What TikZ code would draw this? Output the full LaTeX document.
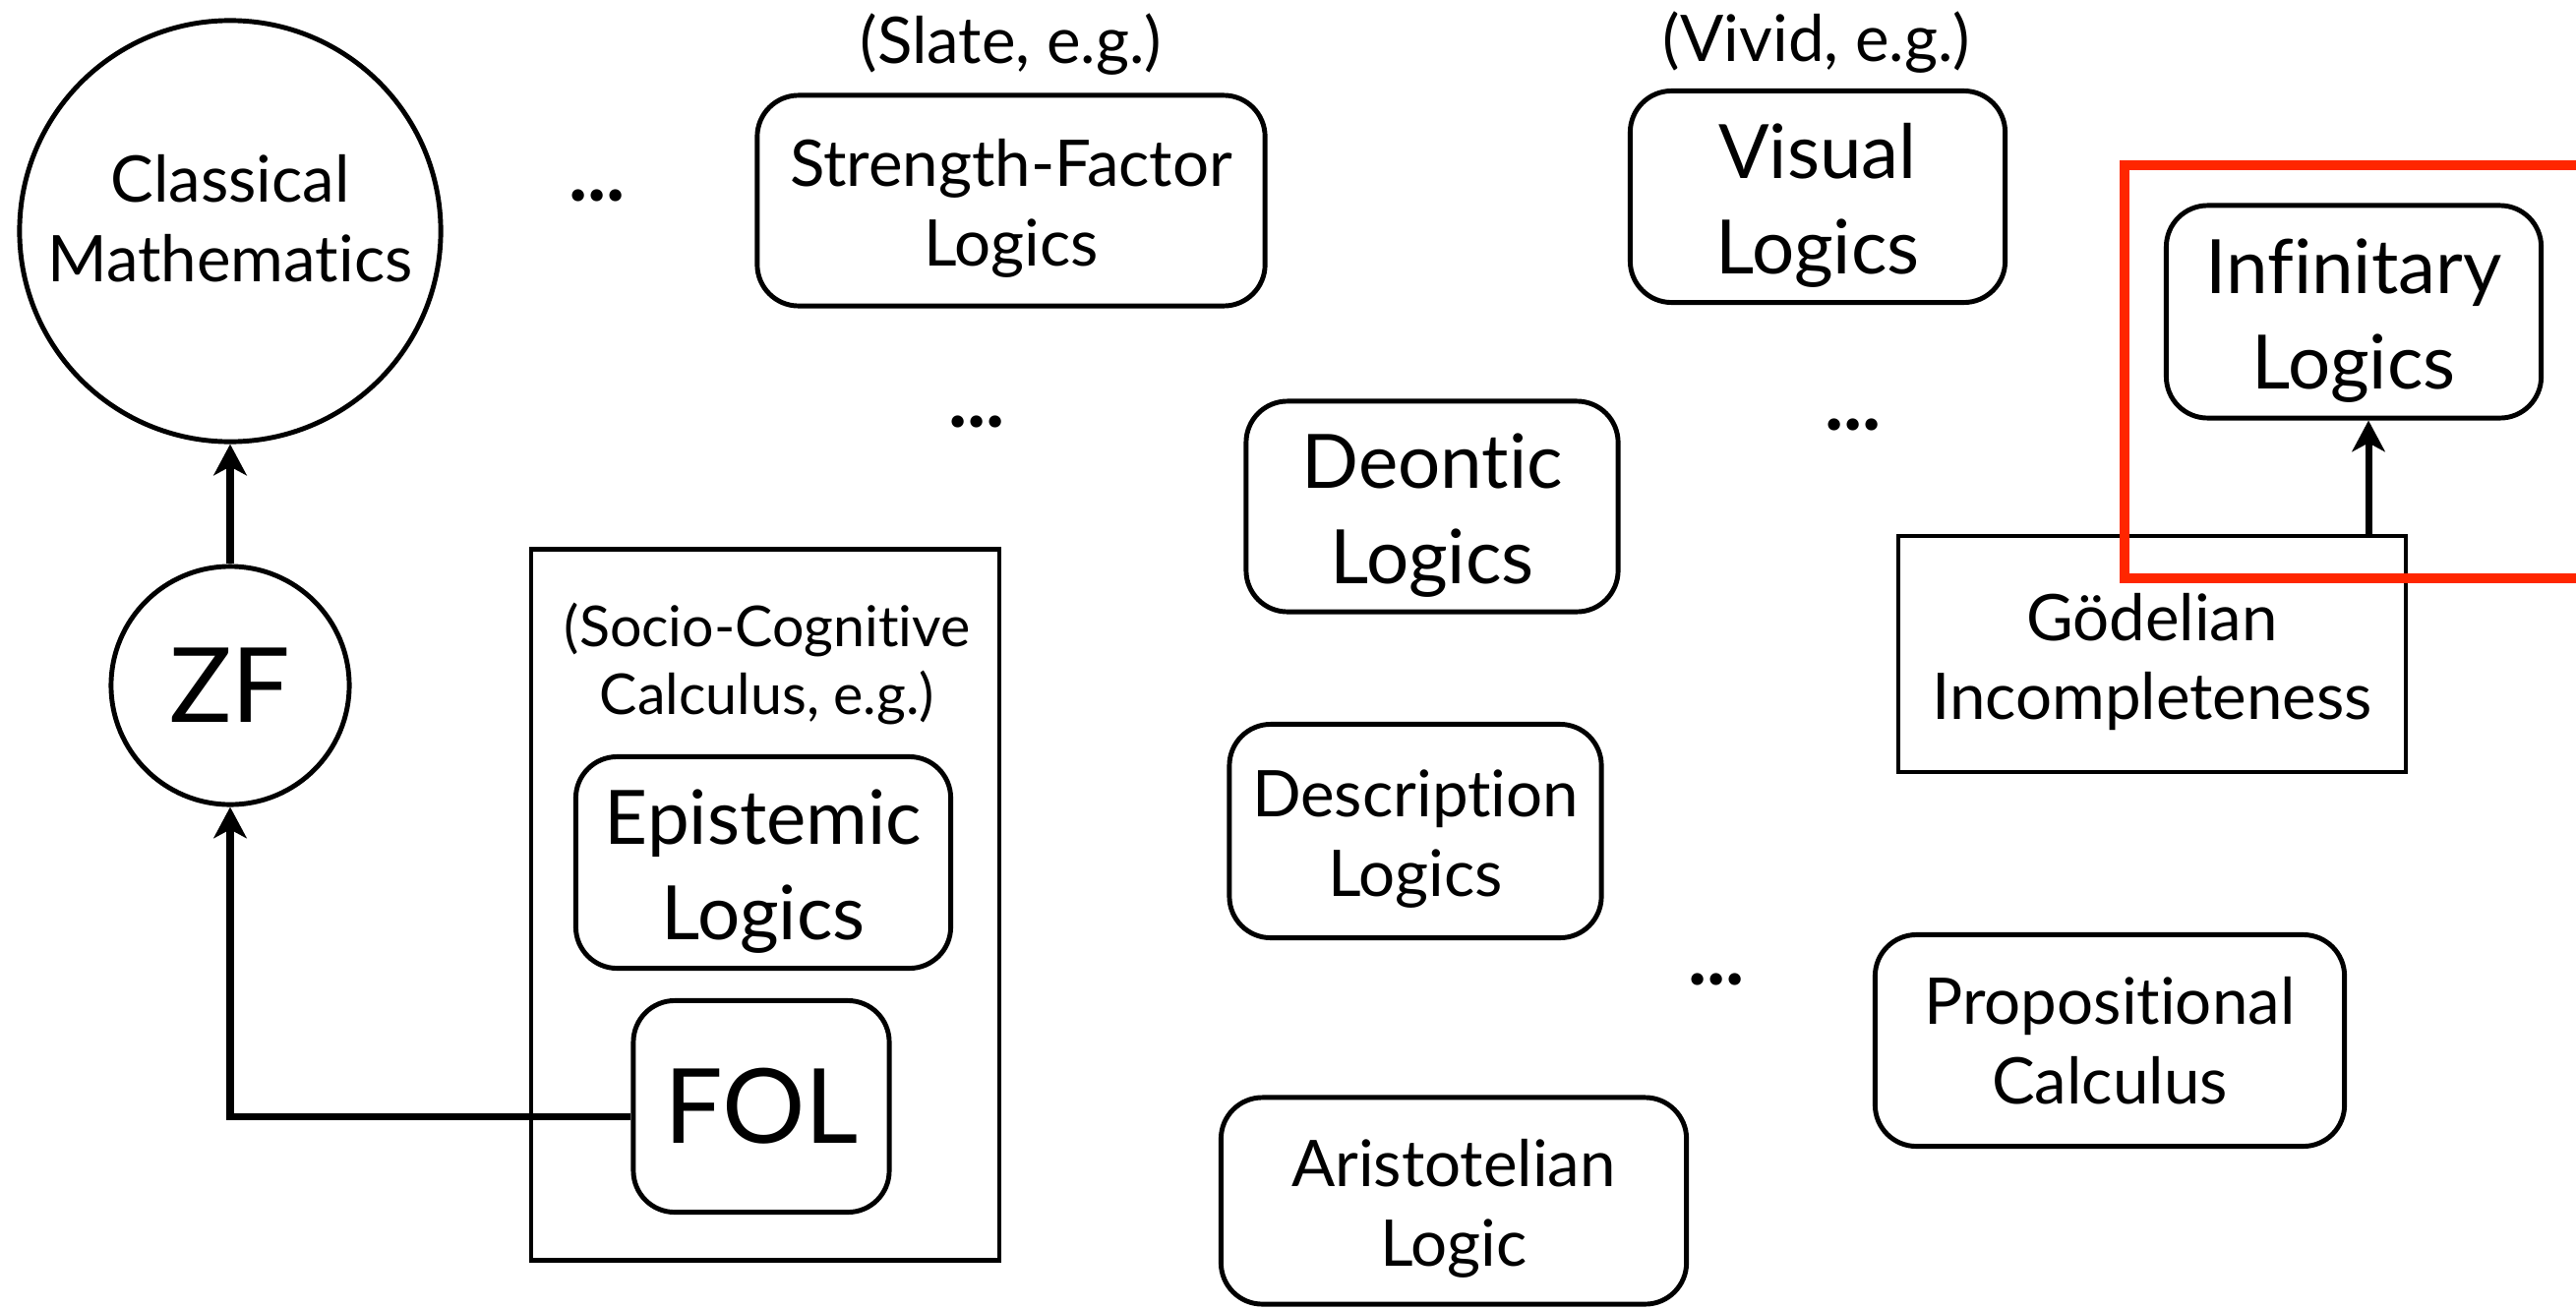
\documentclass[tikz,border=0pt]{standalone}
\usepackage{fontspec}
\setmainfont{Lato}[Ligatures={NoCommon}]
\usetikzlibrary{arrows.meta,calc}
\definecolor{kred}{RGB}{255,38,0}
\newcommand\fsmall{\fontsize{18.6}{23}\selectfont}
\newcommand\flarge{\fontsize{21.7}{27.6}\selectfont}
\newcommand\fhuge{\fontsize{30}{34}\selectfont}
\newcommand\fsocio{\fontsize{16.3}{19.9}\selectfont}
\newcommand\lowerstrut{\rule{0pt}{0.98em}}
\begin{document}
\begin{tikzpicture}[x=0.01cm,y=-0.01cm,
  rbox/.style={draw, line width=1.4pt, rounded corners=0.42cm, align=center, inner sep=0pt},
  sbox/.style={draw, line width=1.3pt, align=center, inner sep=0pt},
  circ/.style={circle, draw, line width=1.4pt, align=center, inner sep=0pt},
  dotsnode/.style={font=\fontsize{23}{25}\selectfont\bfseries, inner sep=0pt},
  arr/.style={-{Stealth[length=9pt,width=9.5pt,inset=2.5pt]}, line width=2pt}]
\useasboundingbox (0,0) rectangle (2619,1330);

% left column
\node[circ, minimum size=4.28cm, font=\fsmall] (cm) at (234,235) {Classical\\Mathematics\rule[-0.4em]{0pt}{0.4em}};
\node[circ, minimum size=2.42cm, font=\fhuge] (zf) at (234,697) {ZF};

% labels
\node[font=\fsmall, inner sep=0pt] (slate) at (1028,45) {(Slate, e.g.)};
\node[font=\fsmall, inner sep=0pt] (vivid) at (1847,43) {(Vivid, e.g.)};

% boxes
\node[rbox, minimum width=5.16cm, minimum height=2.14cm, font=\fsmall] (sf) at (1028,204) {\lowerstrut Strength-Factor\\Logics};
\node[rbox, minimum width=3.81cm, minimum height=2.15cm, font=\flarge] (vis) at (1848,200) {\lowerstrut Visual\\Logics};
\node[rbox, minimum width=3.81cm, minimum height=2.16cm, font=\flarge] (inf) at (2393,317) {\lowerstrut Infinitary\\Logics};
\node[rbox, minimum width=3.78cm, minimum height=2.14cm, font=\flarge] (deo) at (1456,515) {\lowerstrut Deontic\\Logics};
\node[sbox, minimum width=5.16cm, minimum height=2.40cm, font=\fsmall] (god) at (2188,665) {\lowerstrut Gödelian\\Incompleteness};
\node[rbox, minimum width=3.78cm, minimum height=2.17cm, font=\fsmall] (desc) at (1439,845) {\lowerstrut Description\\Logics};
\node[rbox, minimum width=4.77cm, minimum height=2.15cm, font=\fsmall] (prop) at (2145,1058) {Propositional\\Calculus};
\node[rbox, minimum width=4.73cm, minimum height=2.10cm, font=\fsmall] (ari) at (1478,1221) {\lowerstrut Aristotelian\\Logic};

% socio-cognitive calculus container
\node[sbox, minimum width=4.76cm, minimum height=7.23cm] (scc) at (778,920) {};
\node[font=\fsocio, align=center, inner sep=0pt] (scclabel) at (780,675) {(Socio-Cognitive\\Calculus, e.g.)};
\node[rbox, minimum width=3.81cm, minimum height=2.15cm, font=\flarge] (epi) at (776,877) {\lowerstrut Epistemic\\Logics};
\node[rbox, minimum width=2.60cm, minimum height=2.15cm, font=\fhuge] (fol) at (774,1125) {FOL};

% ellipses
\node[dotsnode] (d1) at (607,199) {...};
\node[dotsnode] (d2) at (993,429) {...};
\node[dotsnode] (d3) at (1884,432) {...};
\node[dotsnode] (d4) at (1745,996) {...};

% connectors
\draw[arr] (zf.north) -- (cm.south);
\draw[arr] ([yshift=-0.1cm]fol.west) -| (zf.south);
\draw[arr] ([xshift=0.15cm]inf.south |- god.north) -- ([xshift=0.15cm]inf.south);

% red highlight
\draw[kred, line width=2.85pt] (2160,168) rectangle (2700,588);
\end{tikzpicture}
\end{document}
